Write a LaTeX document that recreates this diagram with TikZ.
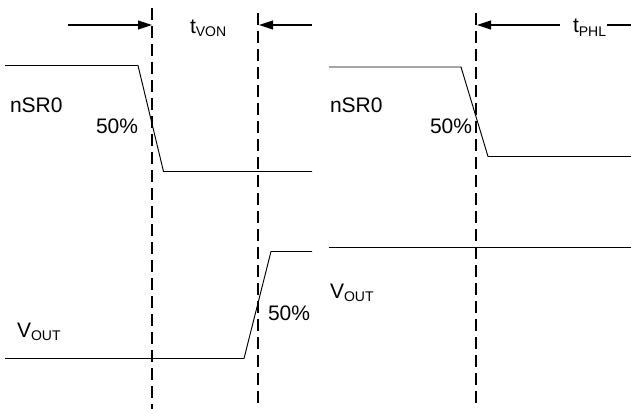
\documentclass[tikz,border=0pt]{standalone}
\usepackage{fontspec}
\setmainfont{Liberation Sans}
\usetikzlibrary{arrows.meta}
\tikzset{
  x=1pt,y=-1pt,
  wave/.style={line width=0.95pt,draw=black,line join=miter},
  guide/.style={line width=1.25pt,draw=black,dash pattern=on 12pt off 6pt},
  span/.style={line width=1.1pt,draw=black,-{Triangle[length=14pt,width=9pt]}},
  plain/.style={line width=1.1pt,draw=black},
  lbl/.style={inner sep=0pt,outer sep=0pt,font=\fontsize{21}{23}\selectfont,anchor=base west},
}
\newcommand{\subs}[1]{\textsubscript{\fontsize{14}{14}\selectfont #1}}
\begin{document}
\begin{tikzpicture}
\useasboundingbox (0,0) rectangle (631,409);
\coordinate (g1t) at (152,8); \coordinate (g1b) at (152,409);
\coordinate (g2t) at (258,13); \coordinate (g2b) at (258,409);
\coordinate (g3t) at (476,13); \coordinate (g3b) at (476,409);
\draw[guide] (g1t) -- (g1b);
\draw[guide] (g2t) -- (g2b);
\draw[guide] (g3t) -- (g3b);
\coordinate (a1s) at (68,25); \coordinate (a1e) at (152,25);
\coordinate (a2s) at (312,25); \coordinate (a2e) at (259,25);
\coordinate (a3s) at (560,25); \coordinate (a3e) at (477,25);
\coordinate (a4s) at (607,25); \coordinate (a4e) at (631,25);
\draw[span] (a1s) -- (a1e);
\draw[span] (a2s) -- (a2e);
\draw[span] (a3s) -- (a3e);
\draw[plain] (a4s) -- (a4e);
\coordinate (w1a) at (5,65.5); \coordinate (w1b) at (138,65.5); \coordinate (w1c) at (163.5,171.5); \coordinate (w1d) at (312,171.5);
\draw[wave] (w1a) -- (w1b) -- (w1c) -- (w1d);
\coordinate (w2a) at (5,358.5); \coordinate (w2b) at (244,358.5); \coordinate (w2c) at (271,251.5); \coordinate (w2d) at (312,251.5);
\draw[wave] (w2a) -- (w2b) -- (w2c) -- (w2d);
\coordinate (w3a) at (329,67); \coordinate (w3b) at (461,67); \coordinate (w3c) at (488,156.5); \coordinate (w3d) at (631,156.5);
\draw[wave] (w3a) -- (w3b) -- (w3c) -- (w3d);
\coordinate (w4a) at (329,247.5); \coordinate (w4b) at (631,247.5);
\draw[wave] (w4a) -- (w4b);
\node[lbl] (n1) at (10,113) {nSR0};
\node[lbl] (n2) at (96,133) {50\%};
\node[lbl] (n3) at (190,33.5) {t\subs{VON}};
\node[lbl] (n4) at (17,337) {V\subs{OUT}};
\node[lbl] (n5) at (268,320) {50\%};
\node[lbl] (n6) at (330,113) {nSR0};
\node[lbl] (n7) at (430,133) {50\%};
\node[lbl] (n8) at (573,33) {t\subs{PHL}};
\node[lbl] (n9) at (330,298) {V\subs{OUT}};
\end{tikzpicture}
\end{document}
